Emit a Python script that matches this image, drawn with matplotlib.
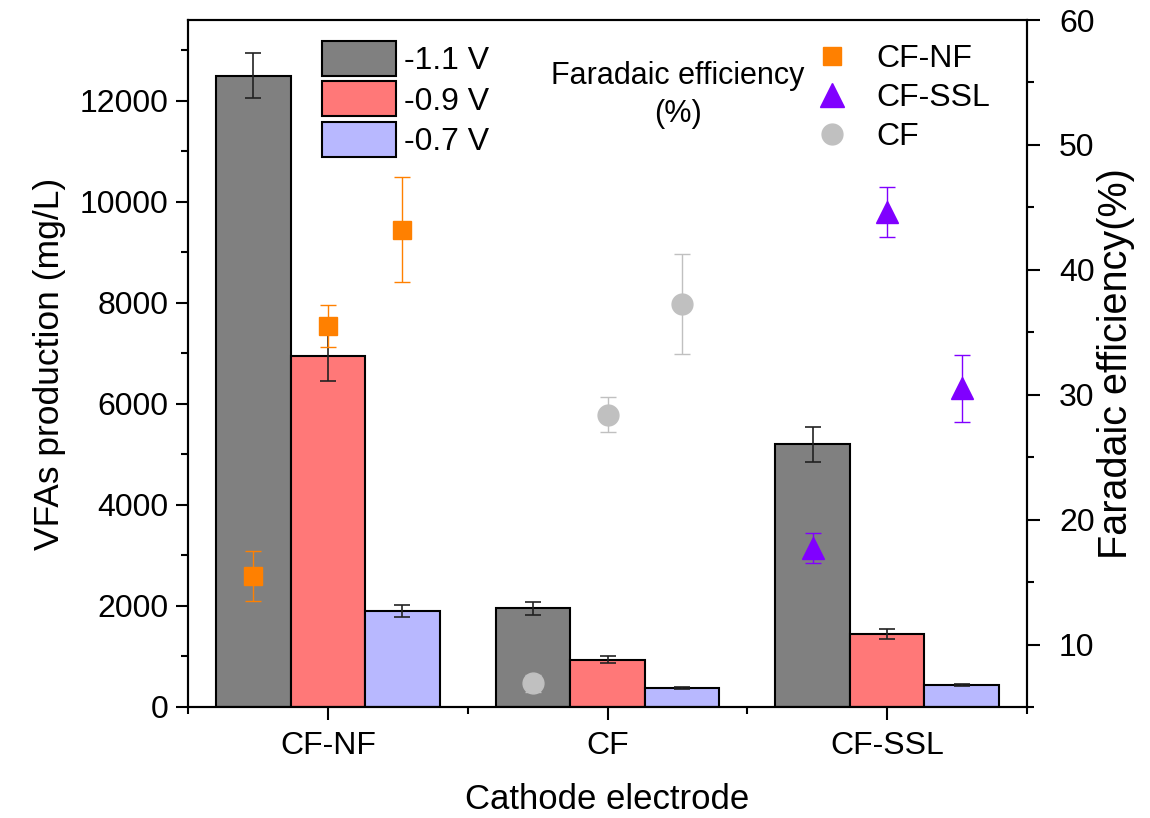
import matplotlib
matplotlib.use("Agg")
import matplotlib.pyplot as plt
import numpy as np
from matplotlib.lines import Line2D
from matplotlib.patches import Patch

plt.rcParams['font.family'] = ['Liberation Sans', 'DejaVu Sans']

cathodes = ['CF-NF', 'CF', 'CF-SSL']
voltages = ['-1.1 V', '-0.9 V', '-0.7 V']

# VFAs production (mg/L) per cathode, one list per voltage
vfa_11 = [12500, 1950, 5200]
vfa_11_err = [450, 130, 350]
vfa_09 = [6950, 935, 1445]
vfa_09_err = [500, 65, 95]
vfa_07 = [1900, 370, 435]
vfa_07_err = [110, 20, 15]

# Faradaic efficiency (%), one list per cathode, ordered -1.1, -0.9, -0.7 V
fe_cfnf = [15.5, 35.5, 43.2]
fe_cfnf_err = [2.0, 1.7, 4.2]
fe_cf = [6.9, 28.4, 37.3]
fe_cf_err = [0.7, 1.4, 4.0]
fe_cfssl = [17.7, 44.6, 30.5]
fe_cfssl_err = [1.2, 2.0, 2.7]

bar_colors = ['#808080', '#FF7878', '#B8B8FF']
c_nf = '#FF8000'
c_ssl = '#8000FF'
c_cf = '#C0C0C0'

fig = plt.figure(figsize=(11.5, 8.18), dpi=100)
ax = fig.add_axes([188 / 1150, 1 - 707 / 818, (1027 - 188) / 1150, (707 - 20) / 818])

x = np.arange(1, len(cathodes) + 1)
w = 0.8 / 3
offsets = [-w, 0, w]
vals = [vfa_11, vfa_09, vfa_07]
errs = [vfa_11_err, vfa_09_err, vfa_07_err]
for k in range(3):
    ax.bar(x + offsets[k], vals[k], w, yerr=errs[k], color=bar_colors[k],
           edgecolor='black', linewidth=1.5,
           error_kw=dict(ecolor='#222222', elinewidth=1.2, capsize=6, capthick=1.2))

ax.set_xlim(0.5, 3.5)
ax.set_ylim(0, 13600)
ax.set_xticks(x)
ax.set_xticklabels(cathodes)
ax.set_xticks([0.5, 1.5, 2.5, 3.5], minor=True)
ax.set_yticks(np.arange(0, 12001, 2000))
ax.set_yticks(np.arange(1000, 13001, 2000), minor=True)
ax.tick_params(which='major', direction='out', length=9, width=1.5, labelsize=23)
ax.tick_params(which='minor', direction='out', length=5, width=1.5)
ax.tick_params(axis='x', pad=8)
ax.tick_params(axis='y', pad=5)
for s in ax.spines.values():
    s.set_linewidth(1.5)
ax.set_ylabel('VFAs production (mg/L)', fontsize=25.5, labelpad=10)
ax.set_xlabel('Cathode electrode', fontsize=25, labelpad=16)

ax2 = ax.twinx()
ax2.set_ylim(5, 60)
ax2.set_yticks(np.arange(10, 61, 10))
ax2.set_yticks(np.arange(5, 60, 10), minor=True)
ax2.tick_params(which='major', direction='out', length=9, width=1.5, labelsize=23, pad=14)
ax2.tick_params(which='minor', direction='out', length=5, width=1.5)
for s in ax2.spines.values():
    s.set_linewidth(1.5)
ax2.set_ylabel('Faradaic efficiency(%)', fontsize=28.5, labelpad=2)

xs = x[0] + np.array(offsets)
ax2.errorbar(xs, fe_cfnf, yerr=fe_cfnf_err, fmt='s', color=c_nf, ms=12.5,
             elinewidth=1, capsize=6, capthick=1)
xs = x[1] + np.array(offsets)
ax2.errorbar(xs, fe_cf, yerr=fe_cf_err, fmt='o', color=c_cf, ms=15,
             elinewidth=1, capsize=6, capthick=1)
xs = x[2] + np.array(offsets)
ax2.errorbar(xs, fe_cfssl, yerr=fe_cfssl_err, fmt='^', color=c_ssl, ms=16,
             elinewidth=1, capsize=6, capthick=1)

bar_handles = [Patch(facecolor=c, edgecolor='black', linewidth=1.5) for c in bar_colors]
leg1 = ax2.legend(bar_handles, voltages, loc='upper left',
                  bbox_to_anchor=(322 / 1150, 1 - 41 / 818), bbox_transform=fig.transFigure,
                  frameon=False, fontsize=23, handlelength=2.32, handleheight=1.31,
                  labelspacing=0.16, handletextpad=0.25, borderpad=0, borderaxespad=0)
ax2.add_artist(leg1)

fe_handles = [Line2D([], [], marker='s', color=c_nf, ls='none', ms=13),
              Line2D([], [], marker='^', color=c_ssl, ls='none', ms=17),
              Line2D([], [], marker='o', color=c_cf, ls='none', ms=15)]
ax2.legend(fe_handles, ['CF-NF', 'CF-SSL', 'CF'], loc='upper left',
           bbox_to_anchor=(816 / 1150, 1 - 44 / 818), bbox_transform=fig.transFigure,
           frameon=False, fontsize=23, handlelength=1.0, labelspacing=0.28,
           handletextpad=0.9, borderpad=0, borderaxespad=0)

fig.text(678 / 1150, 1 - 95 / 818, 'Faradaic efficiency\n(%)', ha='center', va='center',
         fontsize=22, linespacing=1.35)

fig.savefig('out.png', dpi=100)
